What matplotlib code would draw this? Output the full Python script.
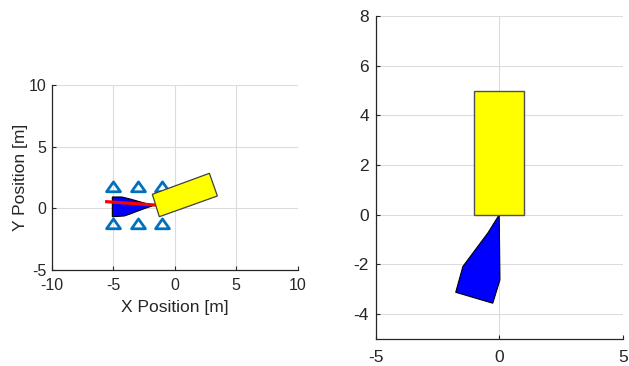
import numpy as np
import matplotlib.pyplot as plt
from matplotlib.patches import Polygon
from matplotlib.path import Path

plt.rcParams['font.family'] = ['Liberation Sans', 'DejaVu Sans']
plt.rcParams['axes.unicode_minus'] = False

# left plot: world frame
cone_x = [-5, -3, -1, -5, -3, -1]
cone_y = [1.62, 1.62, 1.62, -1.35, -1.35, -1.35]
truck_x = [-1.82, 2.82, 3.47, -1.25]
truck_y = [1.14, 2.84, 1.0, -0.68]
tail_x = [-5.07, -4.3, -3.6, -2.9, -2.3, -1.75, -2.4, -3.0, -3.6, -4.1, -5.07]
tail_y = [0.92, 0.92, 0.75, 0.55, 0.38, 0.22, 0.0, -0.22, -0.45, -0.62, -0.68]
path_x = [-5.53, -1.6]
path_y = [0.54, 0.27]

# right plot: body frame
body_x = [-1, 1, 1, -1]
body_y = [0, 0, 5, 5]
tail2_x = [0, -0.45, -1.47, -1.76, -0.26, 0.03, 0]
tail2_y = [0, -0.72, -2.08, -3.12, -3.56, -2.62, 0]

W, H = 629, 366
fig = plt.figure(figsize=(W / 100, H / 100), dpi=100)
ax1 = fig.add_axes([51.7 / W, (H - 270) / H, 246 / W, 185 / H])
ax2 = fig.add_axes([375.7 / W, (H - 339) / H, 247 / W, 323 / H])

for ax in (ax1, ax2):
    ax.grid(True, color='#dcdcdc', lw=0.8)
    ax.set_axisbelow(True)
    for s in ('top', 'right'):
        ax.spines[s].set_visible(False)
    for s in ('left', 'bottom'):
        ax.spines[s].set_color('#262626')
        ax.spines[s].set_linewidth(0.9)
    ax.tick_params(direction='in', length=3, colors='#262626', width=0.8)

# triangle marker centred on its centroid (like MATLAB)
tri = Path([(0, 5.67), (-6, -2.83), (6, -2.83), (0, 5.67)],
           [Path.MOVETO, Path.LINETO, Path.LINETO, Path.CLOSEPOLY])

ax1.add_patch(Polygon(np.column_stack([tail_x, tail_y]), closed=True,
                      fc='#0000ff', ec='black', lw=0.8, zorder=2))
ax1.plot(path_x, path_y, color='#ff0000', lw=2.3, zorder=3)
ax1.plot(cone_x, cone_y, ls='none', marker=tri, ms=10, mfc='none',
         mec='#0072bd', mew=2, zorder=3)
ax1.add_patch(Polygon(np.column_stack([truck_x, truck_y]), closed=True,
                      fc='#ffff00', ec='#404040', lw=0.9, zorder=4))
ax1.set_xlim(-10, 10)
ax1.set_ylim(-5, 10)
ax1.set_xticks([-10, -5, 0, 5, 10])
ax1.set_yticks([-5, 0, 5, 10])
ax1.tick_params(labelsize=11.5)
ax1.tick_params(axis='x', pad=6)
ax1.tick_params(axis='y', pad=4)
ax1.set_xlabel('X Position [m]', fontsize=12.5, color='#262626', labelpad=5)
ax1.set_ylabel('Y Position [m]', fontsize=12.5, color='#262626', labelpad=0)

ax2.add_patch(Polygon(np.column_stack([body_x, body_y]), closed=True,
                      fc='#ffff00', ec='#505050', lw=1.0, zorder=3))
ax2.add_patch(Polygon(np.column_stack([tail2_x, tail2_y]), closed=True,
                      fc='#0000ff', ec='black', lw=0.8, zorder=2))
ax2.set_xlim(-5, 5)
ax2.set_ylim(-5, 8)
ax2.set_xticks([-5, 0, 5])
ax2.set_yticks([-4, -2, 0, 2, 4, 6, 8])
ax2.tick_params(labelsize=12.5)
ax2.tick_params(axis='x', pad=8)
ax2.tick_params(axis='y', pad=5)

fig.savefig('out.png', dpi=100)
